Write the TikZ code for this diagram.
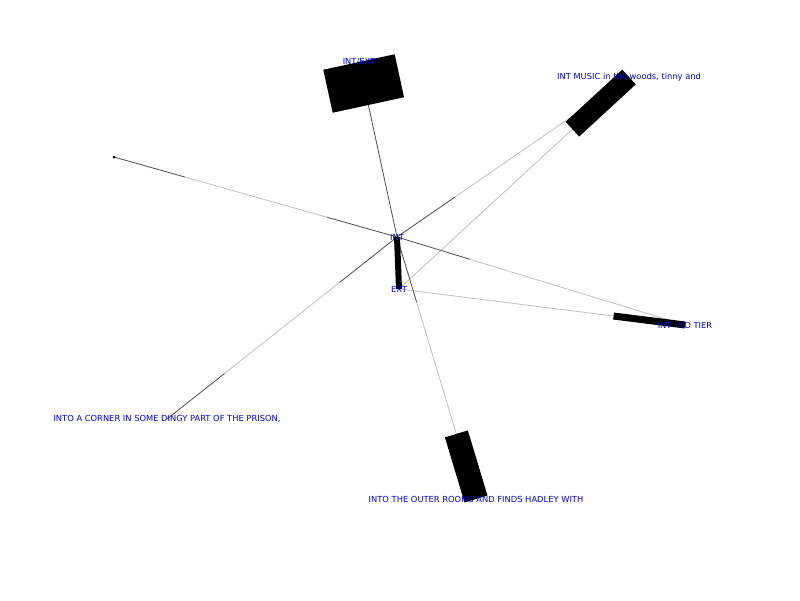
\documentclass[tikz,border=0pt]{standalone}
\usepackage{fontspec}
\setmainfont{DejaVu Sans}
\usetikzlibrary{calc}

\begin{document}
\begin{tikzpicture}[x=1pt,y=-1pt]

\tikzstyle{scene} = [text=blue, font=\fontsize{8.33}{10}\selectfont, inner sep=0pt]
\tikzstyle{faint} = [draw=black!25, line width=0.8pt]
\tikzstyle{dark} = [draw=black!70, line width=0.8pt]
\tikzstyle{head} = [draw=black, line cap=butt]

\useasboundingbox (0,0) rectangle (800,600);

% node positions
\coordinate (int) at (397,237);
\coordinate (ext) at (399,289);
\coordinate (intext) at (359,62);
\coordinate (music) at (629,77);
\coordinate (tier) at (685,325);
\coordinate (corner) at (167,419);
\coordinate (outer) at (476,499);
\coordinate (blank) at (114,157);

% edges
\draw [dark] (int) -- (intext);
\draw [dark] (int) -- ($(int)!0.25!(music)$);
\draw [faint] ($(int)!0.25!(music)$) -- (music);
\draw [faint] (ext) -- (music);
\draw [dark] (blank) -- ($(blank)!0.25!(int)$);
\draw [faint] ($(blank)!0.25!(int)$) -- ($(blank)!0.753!(int)$);
\draw [dark] ($(blank)!0.753!(int)$) -- (int);
\draw [dark] (int) -- ($(int)!0.253!(tier)$);
\draw [faint] ($(int)!0.253!(tier)$) -- (tier);
\draw [faint] (ext) -- (tier);
\draw [dark] (int) -- ($(int)!0.25!(outer)$);
\draw [faint] ($(int)!0.25!(outer)$) -- (outer);
\draw [dark] (int) -- ($(int)!0.25!(corner)$);
\draw [faint] ($(int)!0.25!(corner)$) -- ($(int)!0.75!(corner)$);
\draw [dark] ($(int)!0.75!(corner)$) -- (corner);

% heads
\draw [head, line width=73pt] ($(intext)!44pt!(int)$) -- (intext);
\draw [head, line width=20pt] ($(music)!77pt!(ext)$) -- (music);
\draw [head, line width=7pt] ($(tier)!72pt!(ext)$) -- (tier);
\draw [head, line width=24pt] ($(outer)!68pt!(int)$) -- (outer);
\draw [head, line width=6pt] (int) -- (ext);
\fill (blank) circle (1.5);

% labels
\node [scene] (int-label) at (int) {INT};
\node [scene] (ext-label) at (ext) {EXT};
\node [scene] (intext-label) at (intext) {INT/EXT};
\node [scene] (music-label) at (music) {INT MUSIC in the woods, tinny and};
\node [scene] (tier-label) at (tier) {INT --ND TIER};
\node [scene] (corner-label) at (corner) {INTO A CORNER IN SOME DINGY PART OF THE PRISON,};
\node [scene] (outer-label) at (outer) {INTO THE OUTER ROOMS AND FINDS HADLEY WITH};
\end{tikzpicture}
\end{document}
